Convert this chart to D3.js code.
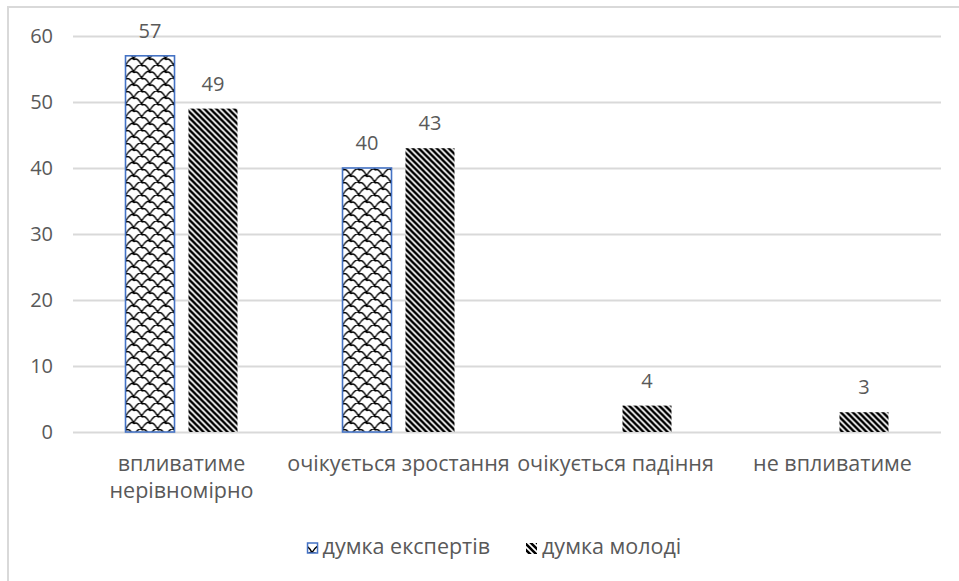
<!DOCTYPE html>
<html>
<head>
<meta charset="utf-8">
<script src="https://cdn.jsdelivr.net/npm/d3@7"></script>
<style>
  body { margin: 0; background: #fff; }
  svg { display: block; }
  text { font-family: "Open Sans", sans-serif; fill: #595959; }
</style>
</head>
<body>
<svg width="959" height="581"></svg>
<script>
// Chart data
const categories = ["впливатиме нерівномірно", "очікується зростання", "очікується падіння", "не впливатиме"];
const tickLines = [["впливатиме", "нерівномірно"], ["очікується зростання"], ["очікується падіння"], ["не впливатиме"]];
const seriesNames = ["думка експертів", "думка молоді"];
const expertValues = [57, 40, null, null];
const youthValues = [49, 43, 4, 3];
const yTicks = [0, 10, 20, 30, 40, 50, 60];

const svg = d3.select("svg");
const width = 959;
const height = 581;

// plot area
const plotLeft = 73, plotRight = 941, plotTop = 36, plotBottom = 432;

// Patterns for the two series
const defs = svg.append("defs");

//downward diagonal stripes
const diag = defs.append("pattern")
    .attr("id", "diag")
    .attr("patternUnits", "userSpaceOnUse")
    .attr("width", 6)
    .attr("height", 6);
diag.append("rect").attr("width", 6).attr("height", 6).attr("fill", "#fff");
diag.append("path")
    .attr("d", "M-1,-1 L7,7 M-4,2 L1,7 M2,-4 L7,1")
    .attr("stroke", "#000")
    .attr("stroke-width", 2.6);

//shingle (roof tile) pattern
const shingle = defs.append("pattern")
    .attr("id", "shingle")
    .attr("patternUnits", "userSpaceOnUse")
    .attr("width", 16)
    .attr("height", 13);
shingle.append("rect").attr("width", 16).attr("height", 13).attr("fill", "#fff");
shingle.append("path")
    .attr("d", "M-8,6.5 Q-2,-3 1,1 Q4,-1 8,6.5 Q14,-3 17,1 Q20,-1 24,6.5 M0,13 Q6,3.5 9,7.5 Q12,5.5 16,13")
    .attr("fill", "none")
    .attr("stroke", "#000")
    .attr("stroke-width", 1.4);
shingle.append("rect").attr("x", 7).attr("y", 5.5).attr("width", 2.2).attr("height", 2.2).attr("fill", "#000");
shingle.append("rect").attr("x", -1).attr("y", 11.5).attr("width", 2.2).attr("height", 2.2).attr("fill", "#000");
shingle.append("rect").attr("x", 15).attr("y", 11.5).attr("width", 2.2).attr("height", 2.2).attr("fill", "#000");
shingle.append("rect").attr("x", -1).attr("y", -1.5).attr("width", 2.2).attr("height", 2.2).attr("fill", "#000");
shingle.append("rect").attr("x", 15).attr("y", -1.5).attr("width", 2.2).attr("height", 2.2).attr("fill", "#000");

// Chart border
svg.append("rect")
    .attr("x", 8)
    .attr("y", 7)
    .attr("width", width + 20)
    .attr("height", height + 20)
    .attr("fill", "none")
    .attr("stroke", "#d9d9d9")
    .attr("stroke-width", 2);

// Scales
const y = d3.scaleLinear()
    .domain([0, 60])
    .range([plotBottom, plotTop]);

const x0 = d3.scaleBand()
    .domain(categories)
    .range([plotLeft, plotRight])
    .paddingInner(0.484)
    .paddingOuter(0.242);

const x1 = d3.scaleBand()
    .domain(seriesNames)
    .range([0, x0.bandwidth()])
    .paddingInner(0.222)
    .paddingOuter(0);

// Gridlines + y labels
const yAxis = svg.append("g")
    .attr("transform", `translate(${plotLeft},0)`)
    .call(d3.axisLeft(y).tickValues(yTicks).tickSize(-(plotRight - plotLeft)).tickPadding(20));
yAxis.select(".domain").remove();
yAxis.selectAll("line").attr("stroke", "#d9d9d9").attr("stroke-width", 2);
yAxis.selectAll("text")
    .attr("font-size", "20px")
    .attr("fill", "#595959")
    .style("font-family", "'Open Sans', sans-serif");

// Bars
const rows = categories.map((c, i) => ({
    category: c,
    values: [
        { series: seriesNames[0], value: expertValues[i] },
        { series: seriesNames[1], value: youthValues[i] }
    ]
}));

const fills = { "думка експертів": "url(#shingle)", "думка молоді": "url(#diag)" };

const groups = svg.selectAll(".group")
    .data(rows)
    .enter()
    .append("g")
    .attr("class", "group")
    .attr("transform", d => `translate(${x0(d.category)},0)`);

groups.selectAll("rect")
    .data(d => d.values.filter(v => v.value))
    .enter()
    .append("rect")
    .attr("x", d => x1(d.series))
    .attr("y", d => y(d.value))
    .attr("width", x1.bandwidth())
    .attr("height", d => y(0) - y(d.value))
    .attr("fill", d => fills[d.series])
    .attr("stroke", d => d.series === seriesNames[0] ? "#4472c4" : "none")
    .attr("stroke-width", 1.6);

// Value labels
groups.selectAll(".label")
    .data(d => d.values.filter(v => v.value))
    .enter()
    .append("text")
    .attr("class", "label")
    .attr("x", d => x1(d.series) + x1.bandwidth() / 2)
    .attr("y", d => y(d.value) - 18)
    .attr("text-anchor", "middle")
    .attr("font-size", "20px")
    .text(d => d.value);

// Category labels
categories.forEach((c, i) => {
    const t = svg.append("text")
        .attr("x", x0(c) + x0.bandwidth() / 2)
        .attr("y", 471)
        .attr("text-anchor", "middle")
        .attr("font-size", "21.5px");
    tickLines[i].forEach((line, j) => {
        t.append("tspan")
            .attr("x", x0(c) + x0.bandwidth() / 2)
            .attr("dy", j === 0 ? 0 : 27)
            .text(line);
    });
});

// Legend (first entry ends at 490, second text starts at 542)
const legendY = 548;
const t1 = svg.append("text")
    .attr("x", 490)
    .attr("y", legendY + 6)
    .attr("text-anchor", "end")
    .attr("font-size", "21.5px")
    .text(seriesNames[0]);
const w1 = t1.node().getComputedTextLength();
svg.append("rect")
    .attr("x", 490 - w1 - 15)
    .attr("y", legendY - 5)
    .attr("width", 10)
    .attr("height", 10)
    .attr("fill", fills[seriesNames[0]])
    .attr("stroke", "#4472c4")
    .attr("stroke-width", 1.5);

svg.append("rect")
    .attr("x", 526)
    .attr("y", legendY - 5)
    .attr("width", 11)
    .attr("height", 11)
    .attr("fill", fills[seriesNames[1]]);
svg.append("text")
    .attr("x", 542)
    .attr("y", legendY + 6)
    .attr("font-size", "21.5px")
    .text(seriesNames[1]);
</script>
</body>
</html>
